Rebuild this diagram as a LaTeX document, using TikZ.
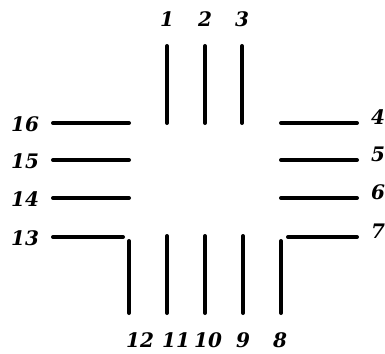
\documentclass[tikz,border=0pt]{standalone}
\usepackage{fontspec}
\setmainfont{DejaVu Serif}
\begin{document}
\begin{tikzpicture}[x=1pt,y=-1pt,
  wire/.style={line width=4pt,line cap=round},
  lbl/.style={font=\fontsize{20}{22}\selectfont\bfseries\itshape,inner sep=0pt,anchor=center}]
\useasboundingbox (0,0) rectangle (385,353);
% top
\foreach \x/\t in {167/1,205/2,242/3}{
  \draw[wire] (\x,46) -- (\x,123);
  \node[lbl] (t\t) at (\x,19) {\t};
}
% left
\foreach \y/\t in {123/16,160/15,198/14}{
  \draw[wire] (53,\y) -- (129,\y);
  \node[lbl] (l\t) at (25,\y+1) {\t};
}
\draw[wire] (53,237) -- (123,237);
\node[lbl] (l13) at (25,238) {13};
% right
\foreach \y/\t in {123/4,160/5,198/6}{
  \draw[wire] (281,\y) -- (357,\y);
  \node[lbl,anchor=west] (r\t) at (371,\y-6) {\t};
}
\draw[wire] (288,237) -- (357,237);
\node[lbl,anchor=west] (r7) at (371,231) {7};
% bottom
\draw[wire] (129,241) -- (129,313);
\draw[wire] (281,241) -- (281,313);
\foreach \x in {167,205,243}{
  \draw[wire] (\x,236) -- (\x,313);
}
\node[lbl] (b12) at (140,340) {12};
\node[lbl] (b11) at (176,340) {11};
\node[lbl] (b10) at (208,340) {10};
\node[lbl] (b9) at (243,340) {9};
\node[lbl] (b8) at (280,340) {8};
\end{tikzpicture}
\end{document}
